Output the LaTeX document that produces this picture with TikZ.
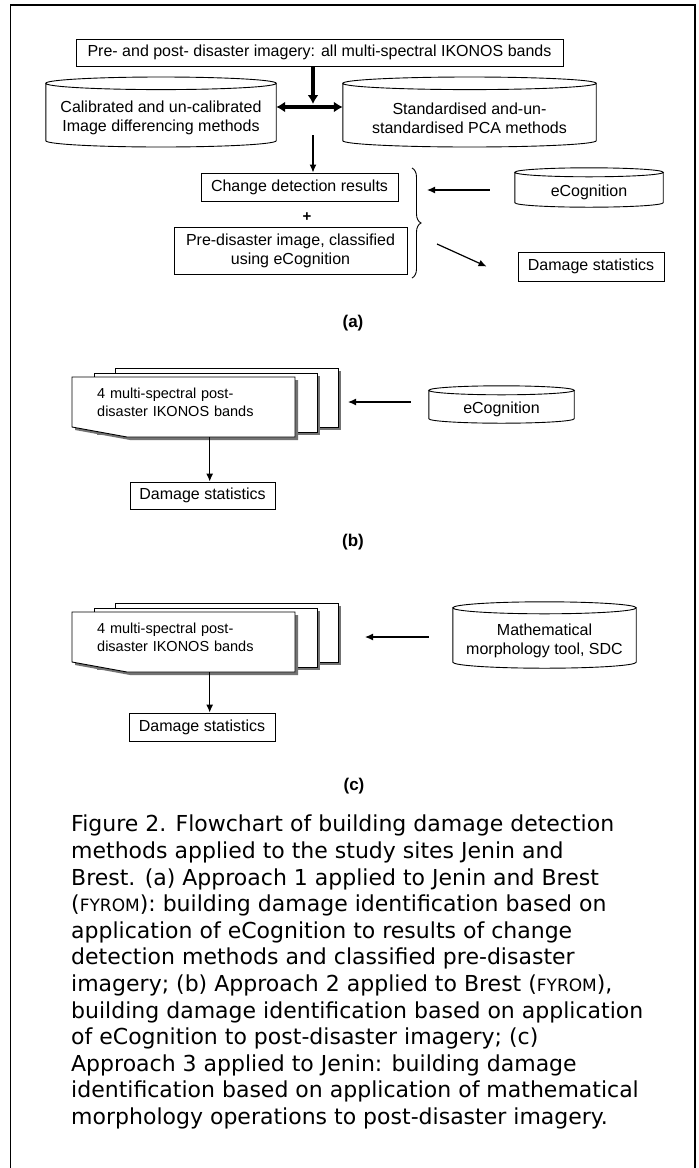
\documentclass[tikz,border=0pt]{standalone}
\usepackage{fontspec}
\setmainfont{Liberation Sans}
\newfontfamily\capfont{DejaVu Sans}
\usetikzlibrary{calc, arrows.meta, decorations.pathreplacing}

% Outline of a drum (cylinder) round a text node,
% #2 is the rim radius, #3 lifts the outline above the text
\newcommand{\drawcyl}[3]{%
  \draw[line width=0.9pt]
    let \p1 = ($(#1.north west)+(0,-#3)$), \p2 = ($(#1.south east)+(0,-#3)$) in
      (\x1,\y1) -- (\x1,\y2)
      arc[start angle=180, end angle=360, x radius={(\x2-\x1)/2}, y radius=#2pt]
      -- (\x2,\y1)
      ($(#1.north)+(0,-#3)$) ellipse[x radius={(\x2-\x1)/2}, y radius=#2pt];}

% Stack of three pages, #1 is the top left corner of the front page
\newcommand{\pagestack}[1]{%
  \foreach \dx/\dy in {43/-9, 22/-4} {
    \fill[black!55] ($(#1)+(\dx+3,\dy+3)$) rectangle ++(223,59);
    \draw[fill=white, line width=0.9pt] ($(#1)+(\dx,\dy)$) rectangle ++(223,59);
  }
  \fill[black!55] ($(#1)+(3,3)$) -- ++(223,0) -- ++(0,60) -- ++(-168,0) -- ++(-55,-10) -- cycle;
  \draw[fill=white, line width=0.9pt] (#1) -- ++(223,0) -- ++(0,60) -- ++(-168,0) -- ++(-55,-10) -- cycle;}

\begin{document}
\begin{tikzpicture}[x=1pt, y=-1pt,
  box/.style={draw, line width=0.9pt, inner sep=0pt, align=center, font=\fontsize{16}{19}\selectfont},
  cyl/.style={inner sep=0pt, align=center, font=\fontsize{16}{19}\selectfont},
  pages/.style={inner sep=0pt, inner xsep=25pt, text width=173pt, minimum height=50pt, align=left, font=\fontsize{14.5}{18}\selectfont},
  arr/.style={line width=1.2pt, -{Latex[length=8pt, width=7pt]}},
  bigline/.style={line width=3.5pt},
  tag/.style={font=\fontsize{17}{20}\selectfont\bfseries}]

% Page and frame (open at the bottom)
\useasboundingbox (0,0) rectangle (699,1168);
\draw[line width=1.5pt] (10.5,1168) -- (10.5,5) -- (695,5) -- (695,1168);

% ---------- (a) ----------
% Input imagery
\node[box, minimum width=487, minimum height=27] (imagery) at (319.5,52.5)
  {Pre- and post- disaster imagery: all multi-spectral IKONOS bands};
% The two families of change detection methods
\node[cyl, minimum width=230, minimum height=57] (diffm) at (161,118)
  {Calibrated and un-calibrated\\Image differencing methods};
\drawcyl{diffm}{6.3}{6}
\node[cyl, minimum width=253, minimum height=57] (pcam) at (469.5,118)
  {Standardised and-un-\\standardised PCA methods};
\drawcyl{pcam}{6.3}{6}
% Split point under the imagery
\coordinate (hub) at (313,107);
\draw[bigline, -{Latex[length=9pt, width=11pt]}, shorten >=3pt] (imagery.south -| hub) -- (hub);
\draw[bigline, {Latex[length=9pt, width=11pt]}-{Latex[length=9pt, width=11pt]}]
  (diffm.east |- hub) -- (pcam.west |- hub);
% Results
\node[box, minimum width=197, minimum height=28] (change) at (299.5,187) {Change detection results};
\draw[arr] ($(hub)+(0,28)$) -- (hub |- change.north);
\node[font=\fontsize{15}{15}\selectfont\bfseries] (plus) at (307,217) {+};
\node[box, minimum width=233, minimum height=47] (preimg) at (290.5,250.5)
  {Pre-disaster image, classified\\using eCognition};
% Brace round both results
\coordinate (braceTop) at (412,168);
\coordinate (braceBot) at (412,278);
\draw[line width=0.9pt, decorate, decoration={brace, amplitude=9pt}] (braceTop) -- (braceBot);
% eCognition in, statistics out
\node[cyl, minimum width=148, minimum height=30] (ecogA) at (589,192.5) {eCognition};
\drawcyl{ecogA}{4.5}{5}
\coordinate (inA) at (427,190);
\draw[arr] (ecogA.west |- inA) ++(-25,0) -- (inA);
\node[box, minimum width=146, minimum height=29] (statsA) at (591,266.5) {Damage statistics};
\coordinate (outA) at (437,244);
\draw[arr] (outA) -- ([xshift=-31pt]statsA.west);
\node[tag] (labA) at (353,323) {(a)};

% ---------- (b) ----------
\coordinate (stackB) at (72,377);
\pagestack{stackB}
\node[pages, anchor=north west] (bandsB) at (stackB)
  {4 multi-spectral post-\\disaster IKONOS bands};
\node[cyl, minimum width=145, minimum height=28] (ecogB) at (501.5,409.5) {eCognition};
\drawcyl{ecogB}{4.5}{5}
\coordinate (inB) at (348,402);
\draw[arr] (ecogB.west |- inB) ++(-18,0) -- (inB);
\node[box, minimum width=145, minimum height=27] (statsB) at (202.5,495.5) {Damage statistics};
\draw[arr] ([xshift=26pt, yshift=-10pt]bandsB.south) -- ([xshift=26pt]bandsB.south |- statsB.north);
\node[tag] (labB) at (353,542) {(b)};

% ---------- (c) ----------
\coordinate (stackC) at (72,612);
\pagestack{stackC}
\node[pages, anchor=north west] (bandsC) at (stackC)
  {4 multi-spectral post-\\disaster IKONOS bands};
\node[cyl, minimum width=183, minimum height=54] (morph) at (544.5,641)
  {Mathematical\\morphology tool, SDC};
\drawcyl{morph}{6}{6}
\coordinate (inC) at (365,637);
\draw[arr] (morph.west |- inC) ++(-24,0) -- (inC);
\node[box, minimum width=146, minimum height=28] (statsC) at (202,727) {Damage statistics};
\draw[arr] ([xshift=26pt, yshift=-10pt]bandsC.south) -- ([xshift=26pt]bandsC.south |- statsC.north);
\node[tag] (labC) at (354,786) {(c)};

% Caption
\node[anchor=north west, inner sep=0pt, align=left, font=\capfont\fontsize{22}{26.6}\selectfont] (caption) at (71,815)
  {Figure 2. Flowchart of building damage detection\\
   methods applied to the study sites Jenin and\\
   Brest. (a) Approach 1 applied to Jenin and Brest\\
   ({\fontsize{17}{26.6}\selectfont FYROM}): building damage identification based on\\
   application of eCognition to results of change\\
   detection methods and classified pre-disaster\\
   imagery; (b) Approach 2 applied to Brest ({\fontsize{17}{26.6}\selectfont FYROM}),\\
   building damage identification based on application\\
   of eCognition to post-disaster imagery; (c)\\
   Approach 3 applied to Jenin: building damage\\
   identification based on application of mathematical\\
   morphology operations to post-disaster imagery.};
\end{tikzpicture}
\end{document}
